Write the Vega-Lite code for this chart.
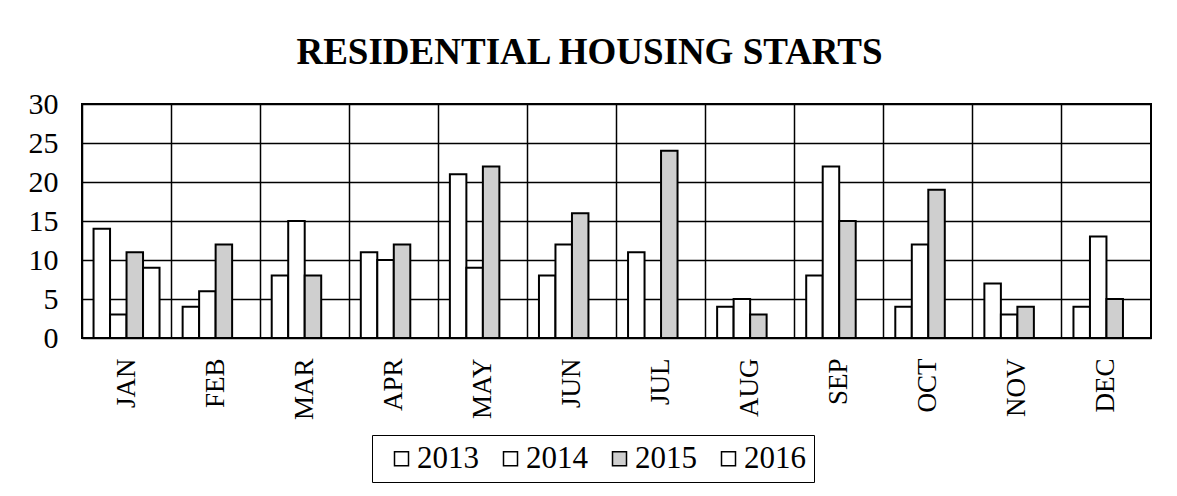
{
  "$schema": "https://vega.github.io/schema/vega-lite/v6.json",
  "autosize": "none",
  "width": 1069,
  "height": 234,
  "padding": {"left": 82, "top": 104, "right": 26, "bottom": 158},
  "background": "white",
  "title": {
    "text": "RESIDENTIAL HOUSING STARTS",
    "font": "Liberation Serif",
    "fontSize": 37,
    "fontWeight": "bold",
    "color": "black",
    "anchor": "middle",
    "dx": -27,
    "offset": -12,
    "baseline": "alphabetic"
  },
  "data": {
    "values": [
      {"month": "JAN", "year": "2013", "starts": 14},
      {"month": "JAN", "year": "2014", "starts": 3},
      {"month": "JAN", "year": "2015", "starts": 11},
      {"month": "JAN", "year": "2016", "starts": 9},
      {"month": "FEB", "year": "2013", "starts": 4},
      {"month": "FEB", "year": "2014", "starts": 6},
      {"month": "FEB", "year": "2015", "starts": 12},
      {"month": "MAR", "year": "2013", "starts": 8},
      {"month": "MAR", "year": "2014", "starts": 15},
      {"month": "MAR", "year": "2015", "starts": 8},
      {"month": "APR", "year": "2013", "starts": 11},
      {"month": "APR", "year": "2014", "starts": 10},
      {"month": "APR", "year": "2015", "starts": 12},
      {"month": "MAY", "year": "2013", "starts": 21},
      {"month": "MAY", "year": "2014", "starts": 9},
      {"month": "MAY", "year": "2015", "starts": 22},
      {"month": "JUN", "year": "2013", "starts": 8},
      {"month": "JUN", "year": "2014", "starts": 12},
      {"month": "JUN", "year": "2015", "starts": 16},
      {"month": "JUL", "year": "2013", "starts": 11},
      {"month": "JUL", "year": "2015", "starts": 24},
      {"month": "AUG", "year": "2013", "starts": 4},
      {"month": "AUG", "year": "2014", "starts": 5},
      {"month": "AUG", "year": "2015", "starts": 3},
      {"month": "SEP", "year": "2013", "starts": 8},
      {"month": "SEP", "year": "2014", "starts": 22},
      {"month": "SEP", "year": "2015", "starts": 15},
      {"month": "OCT", "year": "2013", "starts": 4},
      {"month": "OCT", "year": "2014", "starts": 12},
      {"month": "OCT", "year": "2015", "starts": 19},
      {"month": "NOV", "year": "2013", "starts": 7},
      {"month": "NOV", "year": "2014", "starts": 3},
      {"month": "NOV", "year": "2015", "starts": 4},
      {"month": "DEC", "year": "2013", "starts": 4},
      {"month": "DEC", "year": "2014", "starts": 13},
      {"month": "DEC", "year": "2015", "starts": 5}
    ]
  },
  "mark": {"type": "bar", "stroke": "black", "strokeWidth": 2, "cornerRadius": 0},
  "encoding": {
    "x": {
      "field": "month",
      "type": "nominal",
      "sort": ["JAN","FEB","MAR","APR","MAY","JUN","JUL","AUG","SEP","OCT","NOV","DEC"],
      "scale": {"paddingInner": 0, "paddingOuter": 0},
      "axis": {
        "title": null,
        "labelAngle": 270,
        "labelFont": "Liberation Serif",
        "labelFontSize": 27,
        "labelColor": "black",
        "labelPadding": 20,
        "ticks": false,
        "domain": false,
        "grid": true,
        "gridColor": "black",
        "gridWidth": 1.5,
        "gridOpacity": 1,
        "bandPosition": 0
      }
    },
    "xOffset": {
      "field": "year",
      "type": "nominal",
      "scale": {"domain": ["2013","2014","2015","2016"], "paddingInner": 0, "paddingOuter": 0.7}
    },
    "y": {
      "field": "starts",
      "type": "quantitative",
      "scale": {"domain": [0, 30], "nice": false},
      "axis": {
        "title": null,
        "values": [0,5,10,15,20,25,30],
        "labelFont": "Liberation Serif",
        "labelFontSize": 30,
        "labelColor": "black",
        "labelPadding": 24,
        "ticks": false,
        "domain": false,
        "grid": true,
        "gridColor": "black",
        "gridWidth": 1.5,
        "gridOpacity": 1
      }
    },
    "fill": {
      "field": "year",
      "type": "nominal",
      "scale": {"domain": ["2013","2014","2015","2016"], "range": ["white","white","#cfcfcf","white"]},
      "legend": {
        "title": null,
        "orient": "none",
        "direction": "horizontal",
        "columns": 4,
        "legendX": 290,
        "legendY": 331,
        "strokeColor": "black",
        "padding": 8,
        "symbolType": "square",
        "symbolSize": 196,
        "symbolStrokeColor": "black",
        "symbolStrokeWidth": 1.5,
        "symbolOpacity": 1,
        "symbolOffset": 6,
        "labelFont": "Liberation Serif",
        "labelFontSize": 31,
        "labelColor": "black",
        "labelOffset": 0,
        "columnPadding": 10
      }
    }
  },
  "config": {
    "view": {"stroke": "black", "strokeWidth": 2}
  }
}
